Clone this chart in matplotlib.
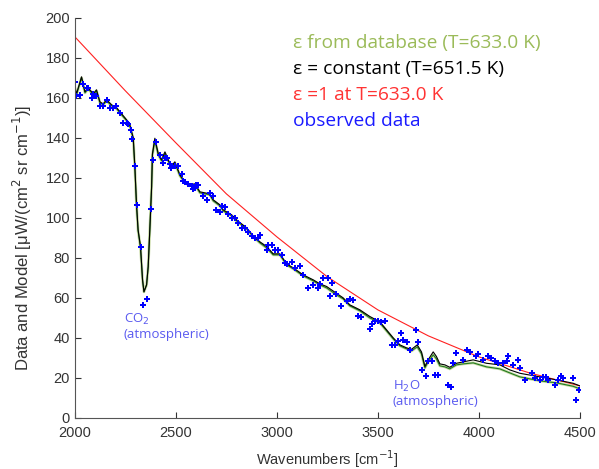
import matplotlib
matplotlib.use("Agg")
import matplotlib.pyplot as plt

# datos
obs_x = [2000, 2008, 2025, 2041, 2058, 2066, 2083, 2091, 2107, 2124, 2140, 2157, 2173, 2190, 2203,
         2223, 2240, 2256, 2264, 2280, 2285, 2297, 2309, 2325, 2338, 2358, 2375, 2388, 2404, 2421,
         2434, 2446, 2454, 2470, 2478, 2495, 2511, 2528, 2536, 2545, 2561, 2578, 2586, 2594, 2602,
         2611, 2635, 2652, 2668, 2684, 2701, 2718, 2726, 2743, 2759, 2776, 2792, 2809, 2825, 2842,
         2858, 2875, 2891, 2908, 2916, 2949, 2957, 2974, 2990, 3007, 3023, 3040, 3048, 3073, 3089,
         3114, 3130, 3155, 3180, 3205, 3213, 3229, 3254, 3262, 3271, 3295, 3320, 3345, 3361, 3378,
         3403, 3419, 3460, 3469, 3485, 3502, 3518, 3535, 3568, 3584, 3601, 3617, 3625, 3642, 3661,
         3688, 3700, 3721, 3738, 3749, 3766, 3782, 3799, 3848, 3860, 3873, 3889, 3923, 3939, 3955,
         3988, 3997, 4021, 4046, 4062, 4079, 4095, 4120, 4137, 4145, 4170, 4195, 4203, 4228, 4261,
         4277, 4302, 4318, 4334, 4343, 4376, 4392, 4409, 4417, 4467, 4483, 4496]
obs_y = [168, 161, 161.5, 167, 165, 165, 160, 162, 161, 155.7, 155.7, 159, 155, 155, 155.7,
         152.5, 147.3, 147.3, 147, 144, 139.5, 125.7, 106.5, 85.3, 56.5, 59.5, 104.5, 129, 138, 131.5,
         127.3, 130, 129.7, 127, 125, 126, 125.7, 122, 118.3, 118, 117, 115.7, 114.5, 114.8, 116.5,
         116.5, 110.8, 109, 112.3, 110.8, 104, 103, 105.7, 105.3, 102, 99.8, 99.8, 97.3, 94.8, 94.8,
         93, 91, 90, 90, 91.5, 84, 86.5, 86.5, 84, 84, 81.5, 77.3, 77, 77.7, 74.8,
         75.7, 71.5, 64.7, 66.5, 64.7, 66.7, 69.8, 69.8, 60.7, 67.3, 62, 55.7, 58.3, 59.5, 59,
         50.7, 50.3, 44.5, 47, 48.2, 48.2, 47.7, 48.2, 36.5, 36.5, 38.2, 42.3, 39, 38, 34,
         44, 37.7, 24, 20.7, 28.5, 28.5, 21.5, 21.5, 16.5, 15.3, 27.3, 32.3, 29, 34, 33,
         30.7, 32, 29, 31, 30, 28.2, 27.5, 27.3, 28.2, 30.7, 26.5, 29, 24.8, 19, 22.3,
         20, 19, 20.5, 20.5, 19, 16.5, 19, 20.7, 20, 19.8, 9, 13.7]

model_x = [2000, 2008, 2033, 2050, 2066, 2091, 2107, 2124, 2140, 2157, 2182, 2207, 2223, 2248, 2264,
           2272, 2289, 2297, 2305, 2313, 2325, 2335, 2342, 2355, 2363, 2371, 2380, 2384, 2396, 2413,
           2429, 2446, 2462, 2478, 2495, 2520, 2545, 2569, 2594, 2619, 2668, 2685, 2718, 2734, 2776,
           2800, 2850, 2883, 2916, 2949, 2982, 3015, 3048, 3081, 3130, 3180, 3213, 3246, 3295, 3328,
           3361, 3411, 3460, 3510, 3543, 3576, 3609, 3642, 3667, 3695, 3716, 3733, 3749, 3774, 3790,
           3807, 3832, 3856, 3889, 3923, 3972, 4038, 4104, 4153, 4203, 4302, 4385, 4467, 4500]
const_y = [165.5, 162, 170.5, 163, 165, 162, 164, 158, 157, 159, 156.5, 155, 153, 150, 148,
           146.5, 140, 125.6, 107, 94, 85.7, 69, 63, 66.5, 75.6, 94, 115.7, 132, 139.8, 132,
           129, 133, 129, 125.7, 128, 121.5, 118, 116.5, 117, 113, 112, 109, 106.5, 104, 101.5,
           99, 95, 91, 88, 85.7, 82, 82, 77, 75, 71.5, 69, 67, 65.7, 62.3, 60,
           56.5, 54, 50.7, 48, 44, 40, 36.5, 35, 34.3, 36.5, 33, 25.7, 29, 33, 30.7,
           27, 26.5, 25.3, 27.3, 28, 29, 27.3, 26.5, 24, 22.3, 20.5, 19, 17.3, 16]
db_y = [165, 161.5, 170, 162.5, 164.5, 161.5, 163.5, 157.5, 156.5, 158.5, 156, 154.5, 152.5, 149.5, 147.5,
        146, 139.5, 125, 106.5, 93.5, 85, 69, 63, 66.5, 75.6, 94, 115.7, 131.5, 138.5, 131.5,
        128.5, 132, 128.5, 125, 127.5, 121, 117.5, 116, 116.5, 112.5, 111.5, 108.5, 106, 103.5, 101,
        98.5, 94.5, 90.5, 87.5, 85, 81.5, 81.5, 76.5, 74.5, 71, 68.5, 66.5, 65, 61.5, 59.5,
        56, 53.5, 50, 47.5, 43.5, 39.5, 36, 34.5, 33.5, 35.5, 32, 25, 28, 31.5, 29.5,
        26, 25.5, 24.5, 26.5, 27, 27.5, 25.5, 24.5, 22.5, 20.5, 18.5, 17.5, 15.8, 14.5]

bb_x = [2000, 2250, 2500, 2750, 3000, 3250, 3500, 3750, 4000, 4250, 4500]
bb_y = [190.5, 163.5, 137.5, 112, 90.5, 70.5, 54, 41, 30.5, 22.5, 16]

fig = plt.figure(figsize=(5.99, 4.69), dpi=100)
ax = fig.add_axes([0.125, 0.109, 0.843, 0.853])

ax.plot(bb_x, bb_y, color='#ff2020', lw=0.8)
ax.plot(model_x, db_y, color='#9bbb59', lw=2, alpha=0.55)
ax.plot(model_x, db_y, color='#1f7a1f', lw=0.8)
ax.plot(model_x, const_y, color='black', lw=0.8)
ax.plot(obs_x, obs_y, ls='none', marker='P', ms=5, mew=0, color='#0000ff')

ax.set_xlim(2000, 4500)
ax.set_ylim(0, 200)
ax.set_xticks(range(2000, 4501, 500))
ax.set_yticks(range(0, 201, 20))
ax.spines['top'].set_visible(False)
ax.spines['right'].set_visible(False)
for s in ['left', 'bottom']:
    ax.spines[s].set_color('#555555')
ax.tick_params(direction='in', length=4, labelsize=10.5, colors='#333333')
ax.tick_params(axis='x', pad=6)
for lbl in ax.get_xticklabels() + ax.get_yticklabels():
    lbl.set_family('Liberation Sans')

ax.set_xlabel('Wavenumbers [cm$^{-1}$]', family='Liberation Sans', fontsize=10.5, color='#333333')
ax.xaxis.set_label_coords(0.5, -0.075)
ax.set_ylabel('Data and Model [\u03bcW/(cm$^2$ sr cm$^{-1}$)]', family='Liberation Sans',
              fontsize=12, color='#333333')
ax.yaxis.set_label_coords(-0.08, 0.45)

# leyenda como texto
leyenda = [('\u03b5 from database (T=633.0 K)', '#9bbb59'),
           ('\u03b5 = constant (T=651.5 K)', 'black'),
           ('\u03b5 =1 at T=633.0 K', '#ff3333'),
           ('observed data', '#1a1aff')]
for i, (txt, col) in enumerate(leyenda):
    fig.text(293 / 599, 1 - (43 + i * 26) / 469, txt, color=col, fontsize=13.8,
             family='Open Sans', va='center')

ax.text(2243, 53, 'CO$_2$\n(atmospheric)', color='#5a5af0', fontsize=9.5,
        family='Open Sans', va='top', ha='left', linespacing=1.1)
ax.text(3574, 19.5, 'H$_2$O\n(atmospheric)', color='#5a5af0', fontsize=9.5,
        family='Open Sans', va='top', ha='left', linespacing=1.1)

fig.savefig('out.png', dpi=100)
